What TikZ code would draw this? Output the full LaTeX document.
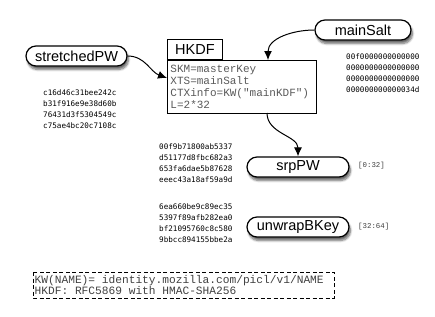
\documentclass[tikz,border=0pt]{standalone}
\usepackage{fontspec}
\setmainfont{Liberation Sans}
\newfontfamily\cour{Liberation Mono}
\newfontfamily\hexf{DejaVu Sans Mono}
\usetikzlibrary{shadows.blur,arrows.meta}
\begin{document}
\begin{tikzpicture}[x=1pt,y=-1pt,
  pill/.style={draw,line width=1.2pt,rounded corners=10pt,fill=white,minimum height=20pt,
    inner xsep=4pt,inner ysep=0pt,font=\fontsize{14.5}{16}\selectfont,
    blur shadow={shadow xshift=1.5pt,shadow yshift=-3.5pt,shadow blur steps=8,shadow opacity=60}},
  hex/.style={font=\hexf\fontsize{7.6}{11}\selectfont,align=left,inner sep=0pt,anchor=north west},
  rng/.style={font=\cour\fontsize{7.4}{9}\selectfont,text=black!75,inner sep=0pt},
  leg/.style={font=\cour\fontsize{11.2}{11}\selectfont,text=black!75,inner sep=0pt,anchor=base west},
  conn/.style={line width=1pt,-{Latex[length=9pt,width=8pt]}}]
\useasboundingbox (0,0) rectangle (435,316);
% pills
\node[pill,minimum width=101pt] (spw) at (76.5,56) {stretchedPW};
\node[pill,minimum width=96pt] (salt) at (363,30) {mainSalt};
\node[pill,minimum width=102pt] (srp) at (298,167) {srpPW};
\node[pill,minimum width=102pt] (unw) at (298,227) {unwrapBKey};
% HKDF
\node[draw,line width=0.9pt,anchor=south west,minimum width=55pt,minimum height=20pt,inner sep=0pt,
  font=\fontsize{14.5}{16}\selectfont] (title) at (167,60) {HKDF};
\node[draw,line width=0.9pt,anchor=north west,minimum width=149pt,minimum height=53pt,inner xsep=3pt,inner ysep=2pt,
  text width=143pt,align=left,font=\cour\fontsize{11}{12}\selectfont,text=black!65] (body) at (167,60)
  {SKM=masterKey\\XTS=mainSalt\\CTXinfo=KW("mainKDF")\\L=2*32};
% hex blocks
\node[hex] (hspw) at (43,90) {c16d46c31bee242c\\b31f916e9e38d60b\\76431d3f5304549c\\c75ae4bc20c7108c};
\node[hex] (hsalt) at (346,54) {00f0000000000000\\0000000000000000\\0000000000000000\\000000000000034d};
\node[hex] (hsrp) at (159,144) {00f9b71800ab5337\\d51177d8fbc682a3\\653fa6dae5b87628\\eeec43a18af59a9d};
\node[hex] (hunw) at (159,204) {6ea660be9c89ec35\\5397f89afb282ea0\\bf21095760c8c580\\9bbcc894155bbe2a};
\node[rng,anchor=west] (r1) at (358,166) {[0:32]};
\node[rng,anchor=west] (r2) at (358,227) {[32:64]};
% arrows
\coordinate (bin) at (167,78);
\coordinate (btop) at (268,60);
\coordinate (bbot) at (267,113);
\draw[conn] (spw.east) to[out=0,in=160] (bin);
\draw[conn] (salt.west) to[out=180,in=90] (btop);
\draw[conn] (bbot) to[out=-90,in=90] (srp.north);
% legend
\draw[line width=1pt,dash pattern=on 4pt off 2.5pt] (33,272) rectangle (334,298);
\node[leg] (l1) at (34.5,283.5) {KW(NAME)= identity.mozilla.com/picl/v1/NAME};
\node[leg] (l2) at (34.5,294.5) {HKDF: RFC5869 with HMAC-SHA256};
\end{tikzpicture}
\end{document}
